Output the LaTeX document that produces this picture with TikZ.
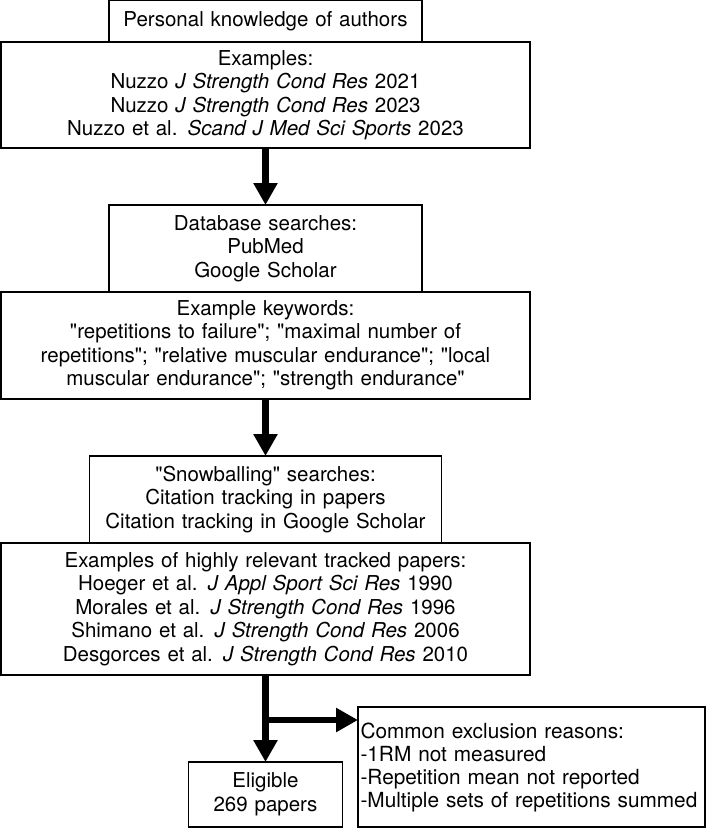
\documentclass[tikz,border=0pt]{standalone}
\usepackage{fontspec}
\newfontfamily\herosfont{TeX Gyre Heros}
\usetikzlibrary{positioning,arrows.meta}

\begin{document}
\begin{tikzpicture}[
    box/.style={rectangle, draw, line width=1.3bp, align=center, inner xsep=0pt, inner ysep=0pt, outer sep=0pt, font=\herosfont\fontsize{20.5bp}{23.5bp}\selectfont},
    bigarrow/.style={-{Triangle[width=23bp,length=22bp]}, line width=6bp}
]
    \useasboundingbox (-265.5bp,21bp) rectangle (443.5bp,-807bp);
    \node[box, text width=313bp, minimum height=42bp] (knowledge) at (0,0) {Personal knowledge of authors};
    \node[box, text width=529bp, minimum height=106bp, below=0pt of knowledge] (examples) {Examples:\\
        Nuzzo \textit{J Strength Cond Res} 2021\\
        Nuzzo \textit{J Strength Cond Res} 2023\\
        Nuzzo et al. \textit{Scand J Med Sci Sports} 2023};
    \node[box, text width=313bp, minimum height=87bp, below=57bp of examples] (database) {Database searches:\\ PubMed\\ Google Scholar};
    \node[box, text width=529bp, minimum height=107bp, below=0pt of database] (keywords) {Example keywords:\\
        "repetitions to failure"; "maximal number of\\
        repetitions"; "relative muscular endurance"; "local\\
        muscular endurance"; "strength endurance"};
    \node[box, text width=352bp, minimum height=87bp, below=57bp of keywords] (snowball) {"Snowballing" searches:\\ Citation tracking in papers\\ Citation tracking in Google Scholar};
    \node[box, text width=529bp, minimum height=132bp, below=0pt of snowball] (tracked) {Examples of highly relevant tracked papers:\\
        Hoeger et al. \textit{J Appl Sport Sci Res} 1990\\
        Morales et al. \textit{J Strength Cond Res} 1996\\
        Shimano et al. \textit{J Strength Cond Res} 2006\\
        Desgorces et al. \textit{J Strength Cond Res} 2010};
    \node[box, text width=154bp, minimum height=65bp, below=87bp of tracked] (eligible) {Eligible\\ 269 papers};
    \node[box, align=left, text width=342bp, inner xsep=2.5bp, minimum height=120bp, above right=0pt and 15.5bp of eligible.south east, font=\herosfont\fontsize{20.8bp}{23bp}\selectfont] (exclusion) {Common exclusion reasons:\\
        -1RM not measured\\
        -Repetition mean not reported\\
        -Multiple sets of repetitions summed};

    \coordinate (split) at ([yshift=-45bp]tracked.south);
    \draw[bigarrow] (examples) -- (database);
    \draw[bigarrow] (keywords) -- (snowball);
    \draw[bigarrow] (tracked) -- (eligible);
    \draw[bigarrow] (split) -- (split -| exclusion.west);
\end{tikzpicture}
\end{document}
